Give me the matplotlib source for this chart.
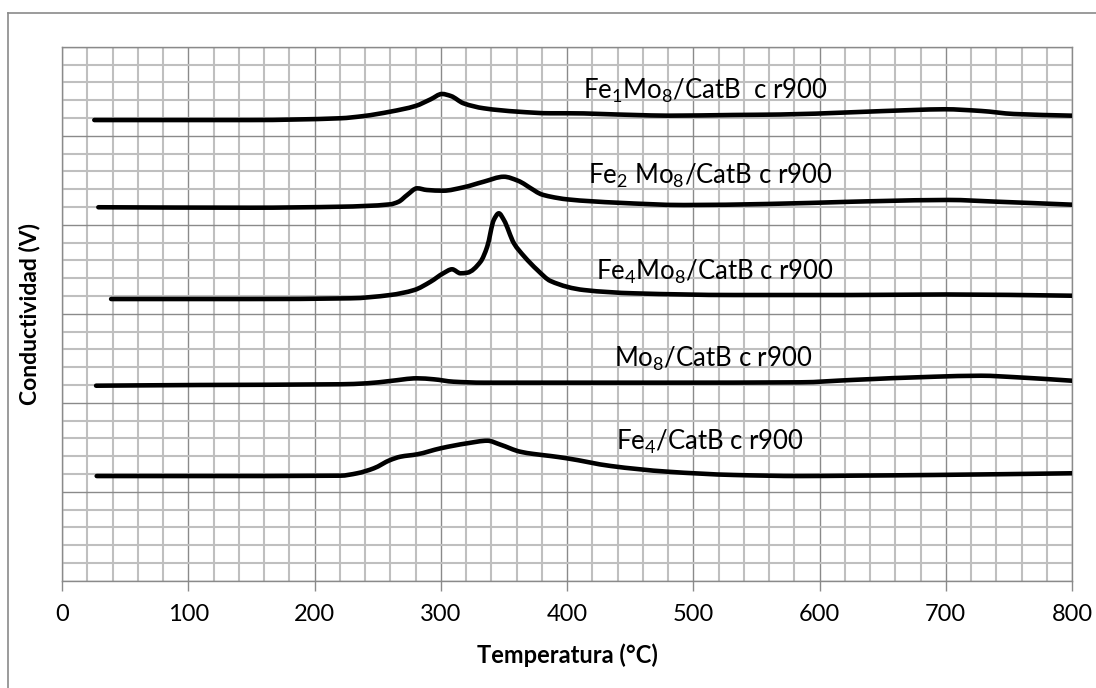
import matplotlib
matplotlib.use("Agg")
import numpy as np
import matplotlib.pyplot as plt
from matplotlib.lines import Line2D
from matplotlib.path import Path
from matplotlib.patches import PathPatch
from matplotlib.ticker import MultipleLocator, NullFormatter

plt.rcParams['font.family'] = ['Lato', 'DejaVu Sans']
plt.rcParams['mathtext.fontset'] = 'custom'
plt.rcParams['mathtext.rm'] = 'Lato'

# ---- data (temperature in °C, signal in arbitrary stacked units) ----
fe1mo8_t = [25.6, 100, 149, 220.6, 239, 260, 280, 292, 301, 308, 318, 334, 361, 387,
            400, 453, 480, 532, 569, 625, 675, 699, 728, 754, 800]
fe1mo8_v = [5.176, 5.176, 5.176, 5.196, 5.221, 5.270, 5.334, 5.409, 5.469, 5.446, 5.364,
            5.308, 5.270, 5.252, 5.252, 5.233, 5.225, 5.233, 5.238, 5.263, 5.289, 5.297,
            5.278, 5.244, 5.225]

fe2mo8_t = [28.8, 149, 220.6, 260, 266.6, 273.4, 281.3, 289, 302, 318, 334, 350, 361,
            373.5, 379, 387, 400, 440, 492.6, 559, 625, 649, 702, 741.6, 800]
fe2mo8_v = [4.196, 4.191, 4.202, 4.229, 4.258, 4.334, 4.409, 4.390, 4.382, 4.420, 4.483,
            4.539, 4.495, 4.390, 4.345, 4.315, 4.285, 4.247, 4.221, 4.233, 4.258, 4.266,
            4.278, 4.258, 4.225]

fe4mo8_t = [38.9, 149, 228.6, 260, 279, 292, 302, 309, 315.6, 321, 331.5, 336.8, 342,
            346, 350, 358, 366, 376.5, 387, 413.5, 453, 532, 625, 700, 800]
fe4mo8_v = [3.165, 3.165, 3.173, 3.210, 3.266, 3.360, 3.454, 3.499, 3.454, 3.461, 3.584,
            3.753, 4.053, 4.128, 4.053, 3.790, 3.645, 3.491, 3.367, 3.266, 3.229, 3.210,
            3.210, 3.216, 3.202]

mo8_t = [27, 109, 220.5, 241.6, 260, 281.3, 294.4, 310, 334, 387, 479.5, 585, 625, 691,
         728, 757, 800]
mo8_v = [2.191, 2.199, 2.207, 2.218, 2.244, 2.274, 2.263, 2.236, 2.225, 2.225, 2.225,
         2.229, 2.255, 2.292, 2.303, 2.285, 2.247]

fe4_t = [27.5, 109, 220.5, 233.8, 247, 260, 268, 281.3, 300, 321, 337, 347, 363, 373.5,
         387, 400, 434.6, 479.5, 532, 585, 625, 691, 800]
fe4_v = [1.176, 1.176, 1.180, 1.207, 1.263, 1.356, 1.393, 1.420, 1.488, 1.544, 1.573,
         1.530, 1.449, 1.424, 1.401, 1.375, 1.289, 1.225, 1.188, 1.176, 1.180, 1.188, 1.207]

series = [
    (fe1mo8_t, fe1mo8_v, r'Fe$\mathregular{_1}$Mo$\mathregular{_8}$/CatB  c r900', 413, 5.41),
    (fe2mo8_t, fe2mo8_v, r'Fe$\mathregular{_2}$ Mo$\mathregular{_8}$/CatB c r900', 417, 4.465),
    (fe4mo8_t, fe4mo8_v, r'Fe$\mathregular{_4}$Mo$\mathregular{_8}$/CatB c r900', 422.7, 3.386),
    (mo8_t, mo8_v, r'Mo$\mathregular{_8}$/CatB c r900', 437, 2.404),
    (fe4_t, fe4_v, r'Fe$\mathregular{_4}$/CatB c r900', 438.5, 1.468),
]

xticks = [0, 100, 200, 300, 400, 500, 600, 700, 800]


def smooth_path(t, v):
    """Smoothed line drawn as cubic Bezier segments through the data points
    (shape-preserving Hermite tangents, so no loops or overshoot)."""
    x = np.asarray(t, float)
    y = np.asarray(v, float)
    n = len(x)
    h = np.diff(x)
    d = np.diff(y) / h
    s = np.zeros(n)
    s[0], s[-1] = d[0], d[-1]
    for i in range(1, n - 1):
        if d[i - 1] * d[i] > 0:
            w1 = 2 * h[i] + h[i - 1]
            w2 = h[i] + 2 * h[i - 1]
            s[i] = (w1 + w2) / (w1 / d[i - 1] + w2 / d[i])
    verts = [(x[0], y[0])]
    codes = [Path.MOVETO]
    for i in range(n - 1):
        verts += [(x[i] + h[i] / 3, y[i] + s[i] * h[i] / 3),
                  (x[i + 1] - h[i] / 3, y[i + 1] - s[i + 1] * h[i] / 3),
                  (x[i + 1], y[i + 1])]
        codes += [Path.CURVE4] * 3
    return Path(verts, codes)


fig = plt.figure(figsize=(10.96, 6.88), dpi=100)
W, H = 1096, 688
ax = fig.add_axes([62 / W, 1 - 580.7 / H, (1072 - 62) / W, (580.7 - 46.7) / H])

ax.set_xlim(0, 800)
ax.set_ylim(0, 6)
ax.set_xticks(xticks)
ax.set_xticklabels([str(t) for t in xticks])
ax.xaxis.set_minor_locator(MultipleLocator(20))
ax.yaxis.set_major_locator(MultipleLocator(1))
ax.yaxis.set_minor_locator(MultipleLocator(0.2))
ax.yaxis.set_major_formatter(NullFormatter())
ax.set_axisbelow(True)
ax.grid(which='minor', color='#bfbfbf', lw=1.5)
ax.grid(which='major', color='#8a8a8a', lw=1.0)
ax.tick_params(axis='x', which='major', direction='out', length=7, width=1,
               color='#8a8a8a', labelsize=17, pad=10, labelcolor='black')
ax.tick_params(axis='x', which='minor', length=0)
ax.tick_params(axis='y', which='both', length=0)
for s in ax.spines.values():
    s.set_color('#8a8a8a')
    s.set_linewidth(1.0)

for t, v, lab, lx, ly in series:
    patch = PathPatch(smooth_path(t, v), facecolor='none', edgecolor='black', lw=3.3,
                      joinstyle='round', capstyle='round', zorder=3)
    ax.add_patch(patch)
    ax.text(lx, ly, lab, fontsize=18.5, ha='left', va='baseline', color='black', zorder=4)

ax.set_xlabel('Temperatura (°C)', fontsize=17, fontweight='bold', labelpad=13)
ax.set_ylabel('Conductividad (V)', fontsize=16.5, fontweight='bold', labelpad=12)

# outer chart-area border (cropped at right and bottom)
fig.add_artist(Line2D([7.5 / W, 7.5 / W], [0, 1 - 12.5 / H], transform=fig.transFigure,
                      color='#8a8a8a', lw=1.2))
fig.add_artist(Line2D([7.5 / W, 1], [1 - 12.5 / H, 1 - 12.5 / H], transform=fig.transFigure,
                      color='#8a8a8a', lw=1.2))

fig.savefig('out.png', dpi=100, facecolor='white')
